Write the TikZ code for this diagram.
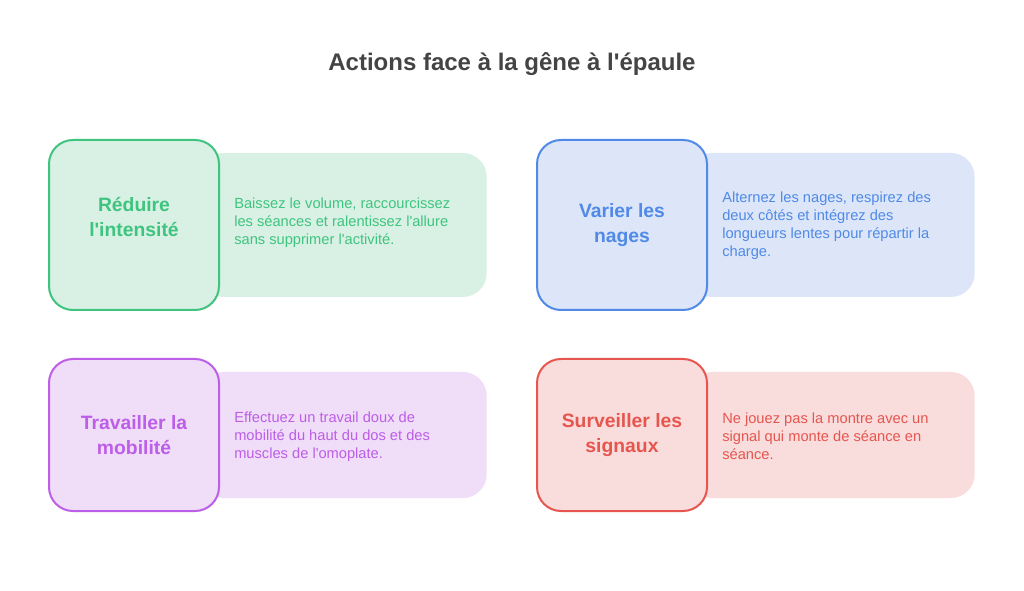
\documentclass[tikz,border=0pt]{standalone}
\usepackage{fontspec}
\setmainfont{Liberation Sans}
\newcommand\sq{\XeTeXglyph\XeTeXcharglyph"0027\relax}
\definecolor{gstroke}{HTML}{3FC47F}
\definecolor{gfill}{HTML}{D8F1E4}
\definecolor{bstroke}{HTML}{508AE6}
\definecolor{bfill}{HTML}{DCE6F8}
\definecolor{pstroke}{HTML}{BC5EE8}
\definecolor{pfill}{HTML}{F0DDF7}
\definecolor{rstroke}{HTML}{E6564F}
\definecolor{rfill}{HTML}{F9DCDC}
\definecolor{titlec}{HTML}{444444}
\begin{document}
\begin{tikzpicture}[x=0.75pt,y=-0.75pt,
  backbox/.style={rounded corners=18pt, minimum width=215.25pt, anchor=east, inner sep=0pt},
  square/.style={rounded corners=18pt, line width=1.5pt, minimum width=127.5pt, inner sep=0pt,
     align=center, font=\fontsize{14.5pt}{18.75pt}\selectfont\bfseries},
  desc/.style={anchor=west, align=left, inner sep=0pt,
     font=\fontsize{11pt}{13.5pt}\selectfont}]
\useasboundingbox (0,0) rectangle (1024,591);
\fill[white] (0,0) rectangle (1024,591);
\node[text=titlec, font=\fontsize{18pt}{22pt}\selectfont\bfseries] (title) at (512,64) {Actions face à la gêne à l\sq épaule};
% top-left
\node[backbox, fill=gfill, minimum height=108pt] (b1) at (487,225) {};
\node[square, draw=gstroke, fill=gfill, minimum height=127.5pt] (s1) at (134,225) {};
\node[square, draw=none, fill=none, text=gstroke, anchor=center] (l1) at (134,217) {Réduire\\l\sq intensité};
\node[desc, text=gstroke] (d1) at (234,223) {Baissez le volume, raccourcissez\\les séances et ralentissez l\sq allure\\sans supprimer l\sq activité.};
% top-right
\node[backbox, fill=bfill, minimum height=108pt] (b2) at (975,225) {};
\node[square, draw=bstroke, fill=bfill, text=bstroke, minimum height=127.5pt] (s2) at (622,225) {Varier les\\nages};
\node[desc, text=bstroke] (d2) at (722,226) {Alternez les nages, respirez des\\deux côtés et intégrez des\\longueurs lentes pour répartir la\\charge.};
% bottom-left
\node[backbox, fill=pfill, minimum height=94.5pt] (b3) at (487,435) {};
\node[square, draw=pstroke, fill=pfill, text=pstroke, minimum height=114pt] (s3) at (134,435) {Travailler la\\mobilité};
\node[desc, text=pstroke] (d3) at (234,437) {Effectuez un travail doux de\\mobilité du haut du dos et des\\muscles de l\sq omoplate.};
% bottom-right
\node[backbox, fill=rfill, minimum height=94.5pt] (b4) at (975,435) {};
\node[square, draw=rstroke, fill=rfill, text=rstroke, minimum height=114pt] (s4) at (622,435) {Surveiller les\\signaux};
\node[desc, text=rstroke] (d4) at (722,436) {Ne jouez pas la montre avec un\\signal qui monte de séance en\\séance.};
\end{tikzpicture}
\end{document}
